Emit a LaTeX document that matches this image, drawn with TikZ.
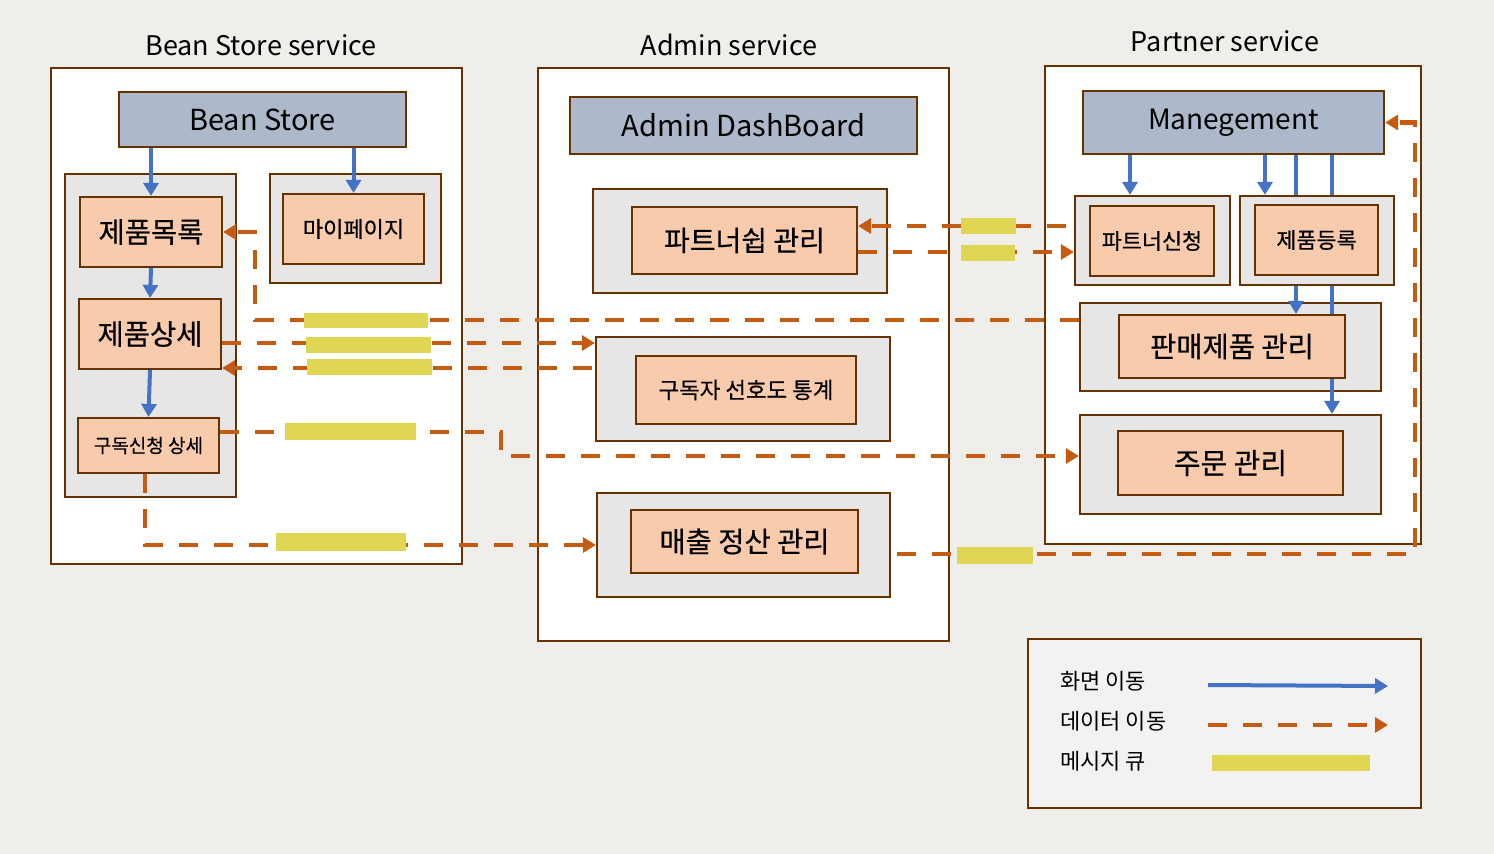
\documentclass[tikz,border=0pt]{standalone}
\usepackage{fontspec}
\setmainfont{Noto Sans CJK KR}
\newfontfamily\kmed[FakeBold=0.5]{Noto Sans CJK KR}
\usetikzlibrary{arrows.meta,calc}
\definecolor{bgc}{HTML}{EFEEEB}
\definecolor{brd}{HTML}{663300}
\definecolor{hdr}{HTML}{ADB9CA}
\definecolor{grp}{HTML}{E7E6E6}
\definecolor{org}{HTML}{F8CBAD}
\definecolor{dat}{HTML}{C55A11}
\definecolor{blu}{HTML}{4472C4}
\definecolor{que}{HTML}{DFD753}
\definecolor{leg}{HTML}{F2F2F2}
\tikzset{
  cont/.style={draw=brd, fill=white, line width=2.5pt, inner sep=0pt},
  hdrbox/.style={draw=brd, fill=hdr, line width=2.2pt, inner sep=0pt},
  grpbox/.style={draw=brd, fill=grp, line width=2.2pt, inner sep=0pt},
  orgbox/.style={draw=brd, fill=org, line width=2.2pt, inner sep=0pt},
  legbox/.style={draw=brd, fill=leg, line width=2.5pt, inner sep=0pt},
  quebox/.style={fill=que, inner sep=0pt},
  ttl/.style={font=\fontsize{27}{30}\selectfont, inner sep=0pt},
  bluearrow/.style={draw=blu, line width=4pt, -{Triangle[length=13pt,width=15pt]}},
  blueline/.style={draw=blu, line width=4pt},
  dataflow/.style={draw=dat, line width=4.5pt, dash pattern=on 19pt off 16pt, -{Triangle[length=13pt,width=15pt]}},
  legtxt/.style={font=\fontsize{22}{26}\selectfont, anchor=west, inner sep=0pt}
}
\begin{document}
\begin{tikzpicture}[x=1pt,y=-1pt]
\useasboundingbox (0,0) rectangle (1494,854);
\fill[bgc] (0,0) rectangle (1494,854);

% titles
\node[ttl] (t1) at (261,45) {Bean Store service};
\node[ttl] (t2) at (729,45) {Admin service};
\node[ttl] (t3) at (1225,41) {Partner service};

% containers
\node[cont, minimum width=411pt, minimum height=496pt] (bs) at (256.5,316) {};
\node[cont, minimum width=411pt, minimum height=573pt] (ad) at (743.5,354.5) {};
\node[cont, minimum width=376pt, minimum height=478pt] (pt) at (1233,305) {};

% headers
\node[hdrbox, minimum width=287pt, minimum height=55pt, font=\fontsize{29}{32}\selectfont] (bsh) at (262.5,119.5) {Bean Store};
\node[hdrbox, minimum width=347pt, minimum height=57pt, font=\fontsize{29}{32}\selectfont] (adh) at (743.5,125.5) {Admin DashBoard};
\node[hdrbox, minimum width=301pt, minimum height=63pt, font=\fontsize{28}{32}\selectfont] (mg) at (1233.5,122.5) {Manegement};

% groups
\node[grpbox, minimum width=171pt, minimum height=323pt] (g1) at (150.5,335.5) {};
\node[grpbox, minimum width=171pt, minimum height=109pt] (g2) at (355.5,228.5) {};
\node[grpbox, minimum width=294pt, minimum height=104pt] (g3) at (740,241) {};
\node[grpbox, minimum width=294pt, minimum height=104pt] (g4) at (743,389) {};
\node[grpbox, minimum width=293pt, minimum height=104pt] (g5) at (743.5,545) {};
\node[grpbox, minimum width=155pt, minimum height=89pt] (g6) at (1152.5,240.5) {};
\node[grpbox, minimum width=154pt, minimum height=89pt] (g7) at (1317,240.5) {};
\node[grpbox, minimum width=301pt, minimum height=88pt] (g8) at (1230.5,347) {};
\node[grpbox, minimum width=301pt, minimum height=99pt] (g9) at (1230.5,464.5) {};

% inner boxes
\node[orgbox, minimum width=142pt, minimum height=70pt, font=\kmed\fontsize{28.5}{32}\selectfont] (plist) at (151,232) {제품목록};
\node[orgbox, minimum width=142pt, minimum height=70pt, font=\kmed\fontsize{28.5}{32}\selectfont] (pdet) at (150,334) {제품상세};
\node[orgbox, minimum width=141pt, minimum height=55pt, font=\kmed\fontsize{19}{22}\selectfont] (sub) at (148.5,445.5) {구독신청 상세};
\node[orgbox, minimum width=141pt, minimum height=70pt, font=\kmed\fontsize{22}{26}\selectfont] (mypage) at (353.5,229) {마이페이지};
\node[orgbox, minimum width=225pt, minimum height=67pt, font=\kmed\fontsize{28}{32}\selectfont] (partner) at (744.5,240.5) {파트너쉽 관리};
\node[orgbox, minimum width=220pt, minimum height=68pt, font=\kmed\fontsize{22.4}{26}\selectfont] (stat) at (746,390) {구독자 선호도 통계};
\node[orgbox, minimum width=227pt, minimum height=63pt, font=\kmed\fontsize{28.5}{32}\selectfont] (sales) at (744.5,541.5) {매출 정산 관리};
\node[orgbox, minimum width=124pt, minimum height=70pt, font=\kmed\fontsize{21.8}{24}\selectfont] (papp) at (1152,241) {파트너신청};
\node[orgbox, minimum width=123pt, minimum height=70pt, font=\kmed\fontsize{21.8}{24}\selectfont] (preg) at (1316.5,240) {제품등록};
\node[orgbox, minimum width=226pt, minimum height=63pt, font=\kmed\fontsize{28.5}{32}\selectfont] (pmgr) at (1232,346.5) {판매제품 관리};
\node[orgbox, minimum width=225pt, minimum height=64pt, font=\kmed\fontsize{29}{32}\selectfont] (order) at (1230.5,463) {주문 관리};

% blue screen-move arrows
\draw[bluearrow] (plist.north |- bsh.south) -- (plist.north);
\draw[bluearrow] (mypage.north |- bsh.south) -- (mypage.north);
\draw[bluearrow] (plist.south) -- (pdet.north);
\draw[bluearrow] (pdet.south) -- (sub.north);
\coordinate (m1) at (1130,0);
\coordinate (m2) at (1265,0);
\coordinate (m3) at (1296,0);
\coordinate (m4) at (1332,0);
\draw[bluearrow] (m1 |- mg.south) -- (m1 |- g6.north);
\draw[bluearrow] (m2 |- mg.south) -- (m2 |- g7.north);
\draw[blueline] (m3 |- mg.south) -- (m3 |- g7.north);
\draw[bluearrow] (m3 |- g7.south) -- (m3 |- pmgr.north);
\draw[blueline] (m4 |- mg.south) -- (m4 |- g7.north);
\draw[blueline] (m4 |- g7.south) -- (m4 |- pmgr.north);
\draw[bluearrow] (m4 |- pmgr.south) -- (m4 |- g9.north);

% data flows
\coordinate (y1) at (0,226);
\coordinate (y2) at (0,252);
\coordinate (k3) at (255,320);
\coordinate (y4) at (0,343);
\coordinate (y5) at (0,368);
\coordinate (k6a) at (501,432);
\coordinate (k6b) at (501,456);
\coordinate (k7) at (145,0);
\coordinate (k8) at (1415,554);
\draw[dataflow] ($(g6.west |- y1)+(-8,0)$) -- (partner.east |- y1);
\draw[dataflow] (partner.east |- y2) -- (g6.west |- y2);
\draw[dataflow] (g8.west |- k3) -- (k3) |- (plist.east);
\draw[dataflow] (pdet.east |- y4) -- (g4.west |- y4);
\draw[dataflow] ($(g4.west |- y5)+(-3,0)$) -- (pdet.east |- y5);
\draw[dataflow] (sub.east |- k6a) -- (k6a) -- (k6b) -- (g9.west |- k6b);
\draw[dataflow] (sub.south -| k7) |- (g5.west);
\draw[dataflow] ($(g5.east |- k8)+(6,0)$) -- (k8) |- (mg.east);

% message queues
\node[quebox, minimum width=55pt, minimum height=16pt] (q1) at (988.5,226) {};
\node[quebox, minimum width=54pt, minimum height=16pt] (q2) at (988,253) {};
\node[quebox, minimum width=124pt, minimum height=15pt] (q3) at (366,320) {};
\node[quebox, minimum width=125pt, minimum height=16pt] (q4) at (368.5,345) {};
\node[quebox, minimum width=125pt, minimum height=16pt] (q5) at (369.5,367) {};
\node[quebox, minimum width=131pt, minimum height=17pt] (q6) at (350.5,431.5) {};
\node[quebox, minimum width=130pt, minimum height=18pt] (q7) at (341,542) {};
\node[quebox, minimum width=76pt, minimum height=17pt] (q8) at (995,555.5) {};

% legend
\node[legbox, minimum width=393pt, minimum height=169pt] (lg) at (1224.5,723.5) {};
\node[legtxt] (l1) at (1060,681) {화면 이동};
\node[legtxt] (l2) at (1060,721) {데이터 이동};
\node[legtxt] (l3) at (1060,761) {메시지 큐};
\coordinate (la1) at (1208,685);
\coordinate (la2) at (1388,686);
\coordinate (lb1) at (1208,725);
\coordinate (lb2) at (1388,725);
\draw[bluearrow] (la1) -- (la2);
\draw[dataflow] (lb1) -- (lb2);
\node[quebox, minimum width=158pt, minimum height=16pt] (q9) at (1291,763) {};
\end{tikzpicture}
\end{document}
